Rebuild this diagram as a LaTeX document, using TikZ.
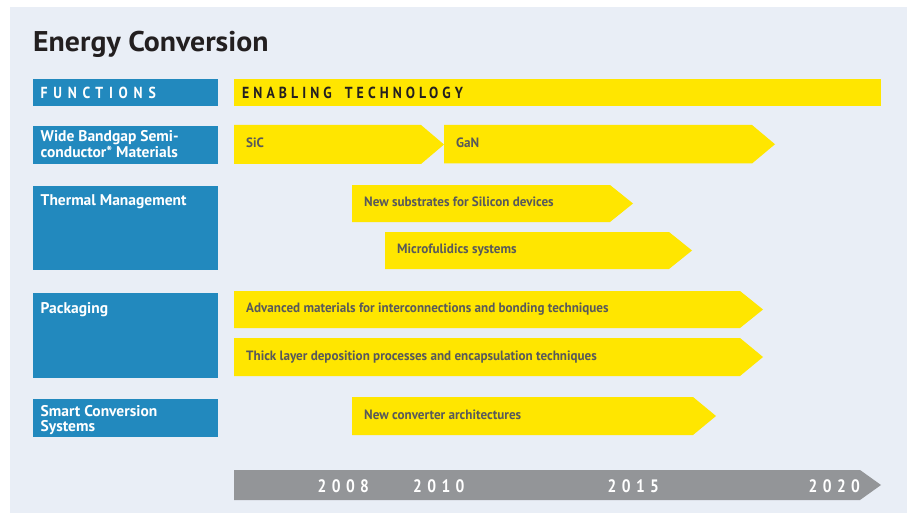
\documentclass[tikz,border=0pt]{standalone}
\usepackage{fontspec}
\setmainfont{PT Sans}
\newfontfamily\pttitle[FakeStretch=1.045]{PT Sans}
\newfontfamily\ptb{PT Sans}
\newfontfamily\ptc[FakeStretch=0.97]{PT Sans}
\newfontfamily\ptfun[FakeStretch=0.86,LetterSpace=36]{PT Sans}
\newfontfamily\ptena[FakeStretch=0.86,LetterSpace=25.5]{PT Sans}
\newfontfamily\ptyr[FakeStretch=0.86,LetterSpace=30]{PT Sans}
\definecolor{panel}{RGB}{233,238,246}
\definecolor{fblue}{RGB}{34,137,190}
\definecolor{ylw}{RGB}{255,230,0}
\definecolor{tlgrey}{RGB}{147,149,152}
\definecolor{txtgrey}{RGB}{88,89,91}
\definecolor{ink}{RGB}{35,31,32}
\tikzset{
  bbox/.style={fill=fblue, inner sep=0pt, anchor=north west, minimum width=185pt},
  btext/.style={anchor=base west, inner sep=0pt, text=white, font=\ptb\bfseries\fontsize{15.5}{16}\selectfont},
  atext/.style={anchor=base west, inner sep=0pt, text=txtgrey, font=\ptc\bfseries\fontsize{13.5}{14}\selectfont},
  funtext/.style={anchor=base west, inner sep=0pt, font=\ptfun\bfseries\fontsize{16}{16}\selectfont},
  enatext/.style={anchor=base west, inner sep=0pt, font=\ptena\bfseries\fontsize{16}{16}\selectfont},
  yrtext/.style={anchor=base west, inner sep=0pt, text=white, font=\ptyr\bfseries\fontsize{18}{18}\selectfont},
}
% #1 name, #2 x1, #3 y1, #4 x body end, #5 y2, #6 x tip, #7 text
\newcommand\chev[7]{%
  \fill[ylw] (#2,#3) -- (#4,#3) -- (#6,{(#3+#5)/2}) -- (#4,#5) -- (#2,#5) -- cycle;
  \node[atext] (#1) at (#2+12,{(#3+#5)/2+3}) {#7};}
\begin{document}
\begin{tikzpicture}[x=1pt,y=-1pt]
\useasboundingbox (0,0) rectangle (909,513);
\fill[white] (0,0) rectangle (909,513);
\fill[panel] (10,7) rectangle (907,513);

\node[anchor=base west, inner sep=0pt, text=ink, font=\pttitle\bfseries\fontsize{28.5}{29}\selectfont] (title) at (33,51.7) {Energy Conversion};

% header row
\node[bbox, minimum height=27pt] (fun) at (33,79) {};
\node[funtext, text=white] (funt) at (40.5,99) {FUNCTIONS};
\fill[ylw] (234,79) rectangle (881,106);
\node[enatext, text=ink] (ent) at (242,99) {ENABLING\hspace{13pt}TECHNOLOGY};

% function boxes
\node[bbox, minimum height=38pt] (wbg) at (33,126) {};
\node[btext] (wbg1) at (40.5,141.7) {Wide Bandgap Semi-};
\node[btext] (wbg2) at (40.5,157.3) {conductor* Materials};

\node[bbox, minimum height=84pt] (thm) at (33,186) {};
\node[btext] (thmt) at (40.5,205) {Thermal Management};

\node[bbox, minimum height=85pt] (pkg) at (33,293) {};
\node[btext] (pkgt) at (40.5,313) {Packaging};

\node[bbox, minimum height=38pt] (scs) at (33,399) {};
\node[btext] (scs1) at (40.5,416) {Smart Conversion};
\node[btext] (scs2) at (40.5,431.5) {Systems};

% technology chevrons
\chev{sic}{234}{125}{421}{164}{444}{SiC}
\chev{gan}{444}{125}{752}{163.5}{775}{GaN}
\chev{sub}{352}{185}{610}{222}{633}{New substrates for Silicon devices}
\chev{mic}{385}{232}{669}{269}{692}{Microfulidics systems}
\chev{adv}{234}{291}{740}{328}{763}{Advanced materials for interconnections and bonding techniques}
\chev{thk}{234}{338}{740}{376}{763}{Thick layer deposition processes and encapsulation techniques}
\chev{cnv}{352}{397}{693}{435}{716}{New converter architectures}

% timeline
\fill[tlgrey] (234,470) -- (860,470) -- (881,485) -- (860,500) -- (234,500) -- cycle;
\node[yrtext] (y08) at (317.5,492) {2008};
\node[yrtext] (y10) at (413,492) {2010};
\node[yrtext] (y15) at (607.5,492) {2015};
\node[yrtext] (y20) at (808.5,492) {2020};
\end{tikzpicture}
\end{document}
